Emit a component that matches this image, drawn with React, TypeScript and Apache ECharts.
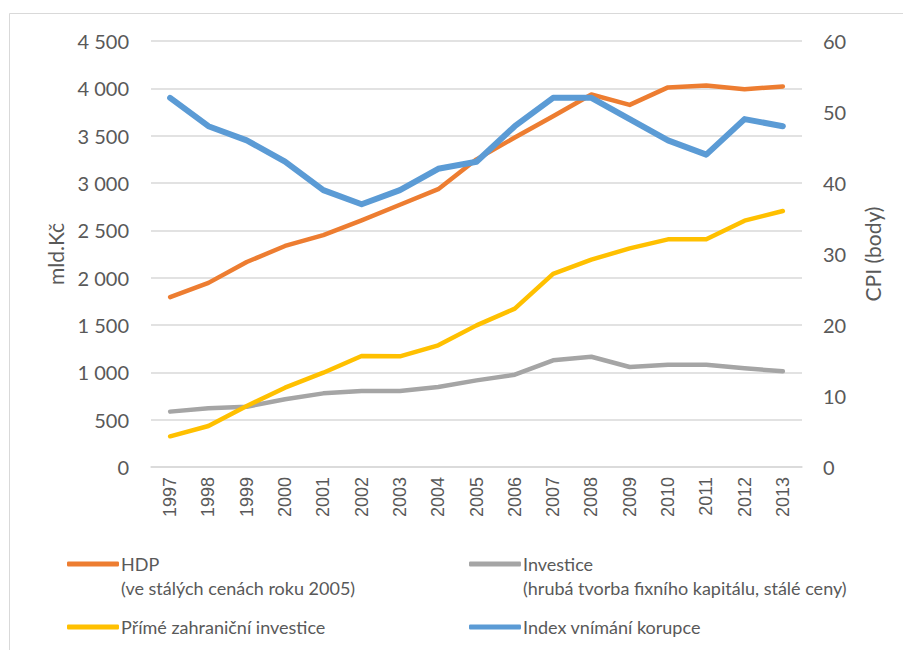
import React, { useEffect, useRef } from "react";
import * as echarts from "echarts";

const years = ["1997","1998","1999","2000","2001","2002","2003","2004","2005","2006","2007","2008","2009","2010","2011","2012","2013"];
const hdp = [1795, 1945, 2165, 2335, 2450, 2605, 2770, 2935, 3250, 3480, 3705, 3935, 3825, 4010, 4030, 3990, 4020];
const investice = [585, 620, 637, 715, 778, 803, 803, 845, 915, 975, 1127, 1165, 1056, 1081, 1081, 1042, 1011];
const pzi = [324, 433, 644, 838, 996, 1173, 1169, 1285, 1496, 1673, 2040, 2190, 2310, 2405, 2405, 2602, 2704];
const cpi = [52, 48, 46, 43, 39, 37, 39, 42, 43, 48, 52, 52, 49, 46, 44, 49, 48];

const names = [
  "HDP\n(ve stálých cenách roku 2005)",
  "Investice\n(hrubá tvorba fixního kapitálu, stálé ceny)",
  "Přímé zahraniční investice",
  "Index vnímání korupce",
];
const colors = ["#ED7D31", "#A5A5A5", "#FFC000", "#5B9BD5"];

const FONT = "Lato";
const GREY = "#595959";

export default function App() {
  const ref = useRef<HTMLDivElement>(null);
  useEffect(() => {
    if (!ref.current) return;
    const chart = echarts.init(ref.current, null, { renderer: "svg" });
    const fmt = (v: number) => String(v).replace(/\B(?=(\d{3})+(?!\d))/g, " ");
    const legendBase = (name: string, left: number, top: number, twoLines: boolean) => ({
      data: [name],
      left,
      top,
      padding: 0,
      icon: "roundRect",
      itemWidth: 52,
      itemHeight: 5,
      itemGap: 0,
      selectedMode: false,
      formatter: (n: string) => (twoLines ? "\n" + n : n),
      textStyle: {
        fontFamily: FONT,
        fontSize: 18,
        color: GREY,
        lineHeight: 24,
        padding: [0, 0, 0, -3],
      },
    });
    chart.setOption({
      animation: false,
      backgroundColor: "#ffffff",
      color: colors,
      graphic: [
        {
          type: "rect",
          shape: { x: 9.5, y: 13.5, width: 1000, height: 1000 },
          style: { fill: "none", stroke: "#d9d9d9", lineWidth: 1 },
          silent: true,
        },
      ],
      grid: { left: 151, right: 101, top: 41, bottom: 183 },
      legend: [
        legendBase(names[0], 67, 528, true),
        legendBase(names[1], 469, 528, true),
        legendBase(names[2], 67, 615, false),
        legendBase(names[3], 469, 615, false),
      ],
      xAxis: {
        type: "category",
        data: years,
        boundaryGap: true,
        axisLine: { show: true, lineStyle: { color: "#d9d9d9", width: 1.5 } },
        axisTick: { show: false },
        axisLabel: {
          rotate: 90,
          margin: 10,
          fontFamily: "Liberation Sans",
          fontSize: 18,
          color: GREY,
          interval: 0,
        },
      },
      yAxis: [
        {
          type: "value",
          min: 0,
          max: 4500,
          interval: 500,
          name: "mld.Kč",
          nameLocation: "middle",
          nameGap: 85,
          nameTextStyle: { fontFamily: FONT, fontSize: 21, color: GREY },
          axisLine: { show: false },
          axisTick: { show: false },
          axisLabel: { formatter: fmt, margin: 22, fontFamily: FONT, fontSize: 20, color: GREY },
          splitLine: { lineStyle: { color: "#d9d9d9", width: 1.5 } },
        },
        {
          type: "value",
          min: 0,
          max: 60,
          interval: 10,
          name: "CPI (body)",
          nameLocation: "middle",
          nameGap: 60,
          nameTextStyle: { fontFamily: FONT, fontSize: 21, color: GREY },
          axisLine: { show: false },
          axisTick: { show: false },
          axisLabel: { margin: 21, fontFamily: FONT, fontSize: 20, color: GREY },
          splitLine: { show: false },
        },
      ],
      series: [
        { name: names[0], type: "line", data: hdp, yAxisIndex: 0, symbol: "none", lineStyle: { width: 4.5, cap: "round", join: "round" } },
        { name: names[1], type: "line", data: investice, yAxisIndex: 0, symbol: "none", lineStyle: { width: 4.5, cap: "round", join: "round" } },
        { name: names[2], type: "line", data: pzi, yAxisIndex: 0, symbol: "none", lineStyle: { width: 4.5, cap: "round", join: "round" } },
        { name: names[3], type: "line", data: cpi, yAxisIndex: 1, symbol: "none", lineStyle: { width: 6, cap: "round", join: "round" } },
      ],
    });
    return () => chart.dispose();
  }, []);
  return (
    <div
      ref={ref}
      style={{ position: "fixed", left: 0, top: 0, width: 903, height: 650 }}
    />
  );
}
